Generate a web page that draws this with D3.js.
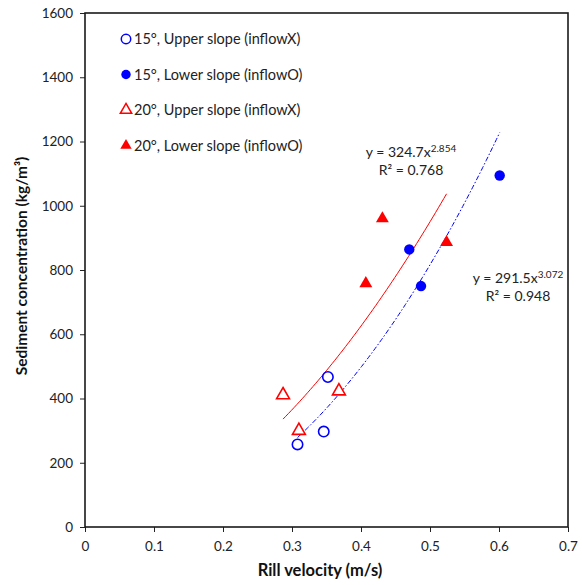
<!DOCTYPE html>
<html>
<head>
<meta charset="utf-8">
<script src="https://cdn.jsdelivr.net/npm/d3@7"></script>
<style>
  html, body { margin: 0; padding: 0; background: #fff; }
  svg { display: block; font-family: Lato, "Open Sans", sans-serif; }
</style>
</head>
<body>
<svg id="chart" width="582" height="585"></svg>
<script>
// Rill velocity (m/s) and sediment concentration (kg/m3) per group
const up15V = [0.308, 0.346, 0.352];
const up15C = [257, 297, 467];
const low15V = [0.470, 0.487, 0.601];
const low15C = [864, 750, 1094];
const up20V = [0.287, 0.310, 0.368];
const up20C = [411, 300, 423];
const low20V = [0.407, 0.431, 0.524];
const low20C = [758, 960, 886];

const legendLabels = [
  "15°, Upper slope (inflowX)",
  "15°, Lower slope (inflowO)",
  "20°, Upper slope (inflowX)",
  "20°, Lower slope (inflowO)"
];
const xTicks = [0, 0.1, 0.2, 0.3, 0.4, 0.5, 0.6, 0.7];
const yTicks = [0, 200, 400, 600, 800, 1000, 1200, 1400, 1600];

const BLUE = "#0000ff", RED = "#ff0000";

const svg = d3.select("#chart");
const x = d3.scaleLinear().domain([0, 0.7]).range([85, 568]);
const y = d3.scaleLinear().domain([0, 1600]).range([527, 13]);

// Power-law least-squares fit in log space: C = a * V^b
function powerFit(vs, cs) {
  const lx = vs.map(Math.log), ly = cs.map(Math.log);
  const mx = d3.mean(lx), my = d3.mean(ly);
  const sxy = d3.sum(lx, (v, i) => (v - mx) * (ly[i] - my));
  const sxx = d3.sum(lx, v => (v - mx) * (v - mx));
  const b = sxy / sxx;
  const a = Math.exp(my - b * mx);
  return { a, b, lo: d3.min(vs), hi: d3.max(vs) };
}

// Axes
const gy = svg.append("g").attr("transform", `translate(${x(0)},0)`)
  .call(d3.axisLeft(y).tickValues(yTicks).tickSize(5).tickPadding(7).tickFormat(d3.format("d")));
const gx = svg.append("g").attr("transform", `translate(0,${y(0)})`)
  .call(d3.axisBottom(x).tickValues(xTicks).tickSize(5).tickPadding(9).tickFormat(d => d === 0 ? "0" : d3.format(".1f")(d)));
[gx, gy].forEach(g => {
  g.select(".domain").remove();
  g.selectAll(".tick line").attr("stroke", "#222").attr("stroke-width", 1);
  g.selectAll(".tick text").attr("font-size", 13.5).attr("fill", "#222")
    .attr("font-family", "Lato, 'Open Sans', sans-serif");
});

// Plot frame
svg.append("rect")
  .attr("x", x(0)).attr("y", y(1600))
  .attr("width", x(0.7) - x(0)).attr("height", y(0) - y(1600))
  .attr("fill", "none").attr("stroke", "#1a1a1a").attr("stroke-width", 1.6);

// Trend curves
function drawFit(fit, color, dash) {
  const pts = d3.range(0, 61).map(i => {
    const v = fit.lo + (fit.hi - fit.lo) * i / 60;
    return [v, fit.a * Math.pow(v, fit.b)];
  });
  svg.append("path")
    .attr("d", d3.line().x(d => x(d[0])).y(d => y(d[1]))(pts))
    .attr("fill", "none").attr("stroke", color).attr("stroke-width", 1)
    .attr("stroke-dasharray", dash);
}
drawFit(powerFit(up20V.concat(low20V), up20C.concat(low20C)), RED, null);
drawFit(powerFit(up15V.concat(low15V), up15C.concat(low15C)), BLUE, "5,2,1.5,2");

// Markers
const circle = d3.symbol().type(d3.symbolCircle).size(85);
const tri = d3.symbol().type(d3.symbolTriangle).size(72);
function drawGroup(vs, cs, sym, color, filled) {
  svg.append("g").selectAll("path").data(vs).join("path")
    .attr("d", sym)
    .attr("transform", (v, i) => `translate(${x(v)},${y(cs[i])})`)
    .attr("fill", filled ? color : "#fff")
    .attr("stroke", color).attr("stroke-width", filled ? 0 : 1.6);
}
drawGroup(up15V, up15C, circle, BLUE, false);
drawGroup(low15V, low15C, circle, BLUE, true);
drawGroup(up20V, up20C, tri, RED, false);
drawGroup(low20V, low20C, tri, RED, true);

// Legend
const legendCircle = d3.symbol().type(d3.symbolCircle).size(70);
const legendTri = d3.symbol().type(d3.symbolTriangle).size(56);
const legendSyms = [
  { sym: legendCircle, color: BLUE, filled: false },
  { sym: legendCircle, color: BLUE, filled: true },
  { sym: legendTri, color: RED, filled: false },
  { sym: legendTri, color: RED, filled: true }
];
const lg = svg.append("g");
legendLabels.forEach((t, i) => {
  const cy = 39 + i * 35.5;
  const s = legendSyms[i];
  lg.append("path").attr("d", s.sym).attr("transform", `translate(126,${cy})`)
    .attr("fill", s.filled ? s.color : "#fff").attr("stroke", s.color)
    .attr("stroke-width", s.filled ? 0 : 1.5);
  lg.append("text").attr("x", 134).attr("y", cy).attr("dy", "0.36em")
    .attr("font-size", 14.5).attr("fill", "#222").text(t);
});

// Equation labels
function equation(cx, cy, coef, expo, r2) {
  const t1 = svg.append("text").attr("x", cx).attr("y", cy).attr("text-anchor", "middle")
    .attr("font-size", 14).attr("fill", "#222");
  t1.append("tspan").text(`y = ${coef}x`);
  t1.append("tspan").attr("dy", -5).attr("font-size", 10).text(expo);
  svg.append("text").attr("x", cx).attr("y", cy + 18).attr("text-anchor", "middle")
    .attr("font-size", 14).attr("fill", "#222").text(`R² = ${r2}`);
}
equation(411, 157, "324.7", "2.854", "0.768");
equation(518, 283, "291.5", "3.072", "0.948");

// Axis titles
svg.append("text").attr("x", 320).attr("y", 576).attr("text-anchor", "middle")
  .attr("font-size", 16.5).attr("font-weight", "bold").attr("fill", "#111")
  .text("Rill velocity (m/s)");
svg.append("text").attr("transform", "translate(27,266) rotate(-90)")
  .attr("text-anchor", "middle").attr("font-size", 15.5).attr("font-weight", "bold")
  .attr("fill", "#111").text("Sediment concentration (kg/m³)");
</script>
</body>
</html>
